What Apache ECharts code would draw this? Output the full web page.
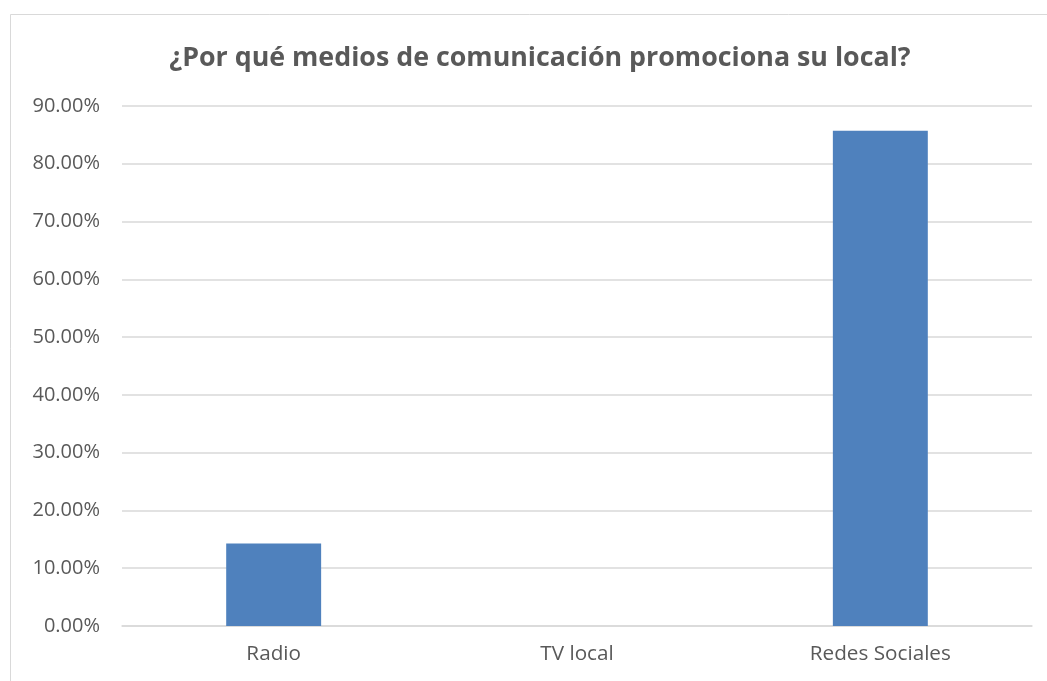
<!DOCTYPE html>
<html>
<head>
<meta charset="utf-8">
<style>
  html, body { margin: 0; padding: 0; background: #fff; }
  #chart { width: 1047px; height: 681px; }
</style>
<script src="https://cdn.jsdelivr.net/npm/echarts@6/dist/echarts.min.js"></script>
</head>
<body>
<div id="chart"></div>
<script>
// Survey: which media are used to promote the shop
const categories = ['Radio', 'TV local', 'Redes Sociales'];
const shares = [14.29, 0, 85.71];   // percent of respondents
const yTicks = { min: 0, max: 90, interval: 10 };

const chart = echarts.init(document.getElementById('chart'), null, { renderer: 'canvas' });
const textColor = '#595959';
const font = '"Open Sans", "Noto Sans", sans-serif';

chart.setOption({
  animation: false,
  backgroundColor: '#ffffff',
  graphic: [{
    type: 'rect',
    shape: { x: 10.5, y: 14.5, width: 1060, height: 700 },
    style: { fill: 'none', stroke: '#d9d9d9', lineWidth: 1 },
    silent: true
  }],
  title: {
    text: '¿Por qué medios de comunicación promociona su local?',
    left: 535,
    textAlign: 'center',
    top: 40,
    textStyle: { color: textColor, fontFamily: font, fontWeight: 'bold', fontSize: 26.8 }
  },
  grid: { left: 122, right: 15, top: 106, bottom: 55, containLabel: false },
  xAxis: {
    type: 'category',
    data: categories,
    axisLine: { lineStyle: { color: '#d9d9d9', width: 1.5 } },
    axisTick: { show: false },
    axisLabel: { color: textColor, fontFamily: font, fontSize: 20.7, margin: 18 }
  },
  yAxis: {
    type: 'value',
    min: yTicks.min,
    max: yTicks.max,
    interval: yTicks.interval,
    axisLine: { show: false },
    axisTick: { show: false },
    splitLine: { lineStyle: { color: '#d9d9d9', width: 1.5 } },
    axisLabel: {
      color: textColor, fontFamily: font, fontSize: 20, margin: 22,
      formatter: v => v.toFixed(2) + '%'
    }
  },
  series: [{
    type: 'bar',
    data: shares,
    barWidth: '31.3%',
    itemStyle: { color: '#4f81bd' }
  }]
});
</script>
</body>
</html>
